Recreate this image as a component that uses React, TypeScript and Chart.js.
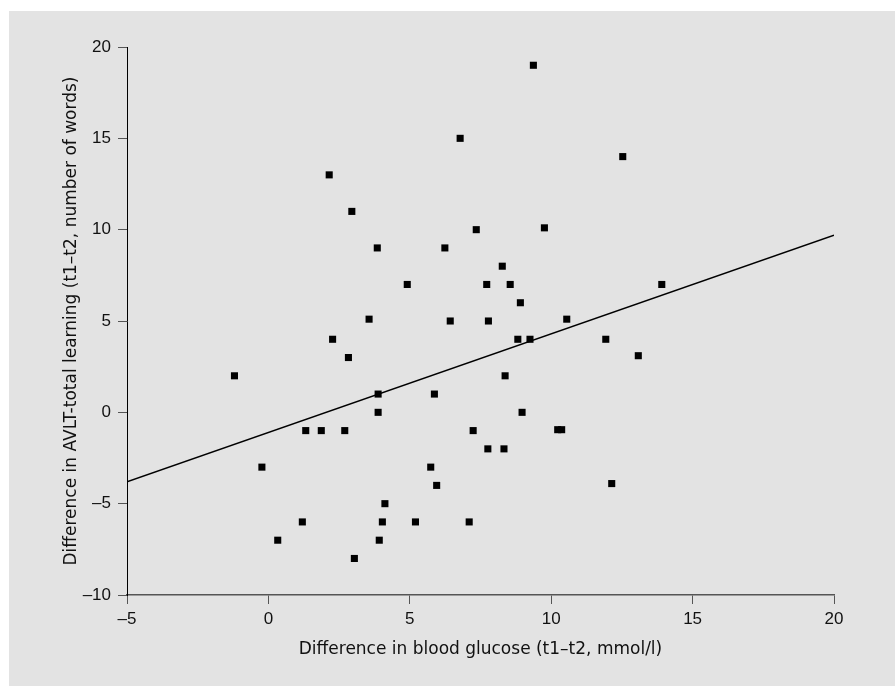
import React, { useEffect, useRef } from "react";
import { Chart, registerables } from "chart.js";

Chart.register(...registerables);

const glucoseDiff = [
  -1.2, -0.23, 0.33, 1.2, 1.32, 1.87, 2.15, 2.27, 2.7, 2.83, 2.95, 3.04, 3.56,
  3.85, 3.88, 3.88, 3.92, 4.03, 4.12, 4.91, 5.2, 5.74, 5.87, 5.95, 6.24, 6.43,
  6.78, 7.1, 7.24, 7.35, 7.72, 7.76, 7.78, 8.27, 8.33, 8.37, 8.55, 8.82, 8.91,
  8.97, 9.25, 9.37, 9.76, 10.23, 10.37, 10.55, 11.93, 12.14, 12.53, 13.08, 13.91,
];
const avltDiff = [
  2, -3, -7, -6, -1, -1, 13, 4, -1, 3, 11, -8, 5.1,
  9, 1, 0, -7, -6, -5, 7, -6, -3, 1, -4, 9, 5,
  15, -6, -1, 10, 7, -2, 5, 8, -2, 2, 7, 4, 6,
  0, 4, 19, 10.1, -0.95, -0.95, 5.1, 4, -3.9, 14, 3.1, 7,
];
const fitX = [-5, 20];
const fitY = [-3.8, 9.7];

const xTitle = "Difference in blood glucose (t1\u2013t2, mmol/l)";
const yTitle = "Difference in AVLT-total learning (t1\u2013t2, number of words)";

const fmt = (v: number | string) => String(v).replace("-", "\u2013");

export default function App() {
  const ref = useRef<HTMLCanvasElement | null>(null);

  useEffect(() => {
    if (!ref.current) return;
    const tickFont = { family: "'Liberation Sans', Arial, sans-serif", size: 17 };
    const titleFont = { family: "'DejaVu Sans', sans-serif", size: 17 };
    const chart = new Chart(ref.current, {
      type: "scatter",
      data: {
        datasets: [
          {
            type: "scatter",
            data: glucoseDiff.map((x, i) => ({ x, y: avltDiff[i] })),
            pointStyle: "rect",
            pointRadius: 5,
            pointBorderWidth: 0,
            backgroundColor: "#000",
            borderColor: "#000",
          },
          {
            type: "line",
            data: fitX.map((x, i) => ({ x, y: fitY[i] })),
            borderColor: "#000",
            borderWidth: 1.5,
            pointRadius: 0,
            fill: false,
          },
        ],
      },
      options: {
        animation: false,
        responsive: false,
        events: [],
        layout: { padding: { left: 0, top: 36, right: 61, bottom: 0 } },
        plugins: { legend: { display: false }, tooltip: { enabled: false } },
        scales: {
          x: {
            type: "linear",
            min: -5,
            max: 20,
            afterFit: (s: any) => {
              s.height = 91;
            },
            border: { display: true, color: "#555", width: 1.5 },
            grid: { drawOnChartArea: false, tickLength: 9, color: "#555", lineWidth: 1 },
            ticks: { stepSize: 5, padding: 5, color: "#111", font: tickFont, callback: (v: any) => fmt(v) },
            title: { display: true, text: xTitle, color: "#111", font: titleFont, padding: { top: 0, bottom: 26 } },
          },
          y: {
            type: "linear",
            min: -10,
            max: 20,
            afterFit: (s: any) => {
              s.width = 118;
            },
            border: { display: true, color: "#000", width: 1 },
            grid: { drawOnChartArea: false, tickLength: 9, color: "#555", lineWidth: 1 },
            ticks: { stepSize: 5, padding: 7, color: "#111", font: tickFont, callback: (v: any) => fmt(v) },
            title: { display: true, text: yTitle, color: "#111", font: titleFont, padding: { top: 52, bottom: 0 } },
          },
        },
      },
    } as any);
    return () => chart.destroy();
  }, []);

  return (
    <div
      style={{
        position: "fixed",
        left: 9,
        top: 11,
        right: 0,
        bottom: 0,
        overflow: "hidden",
        background: "#e3e3e3",
      }}
    >
      <canvas ref={ref} width={886} height={675} style={{ display: "block" }} />
    </div>
  );
}
